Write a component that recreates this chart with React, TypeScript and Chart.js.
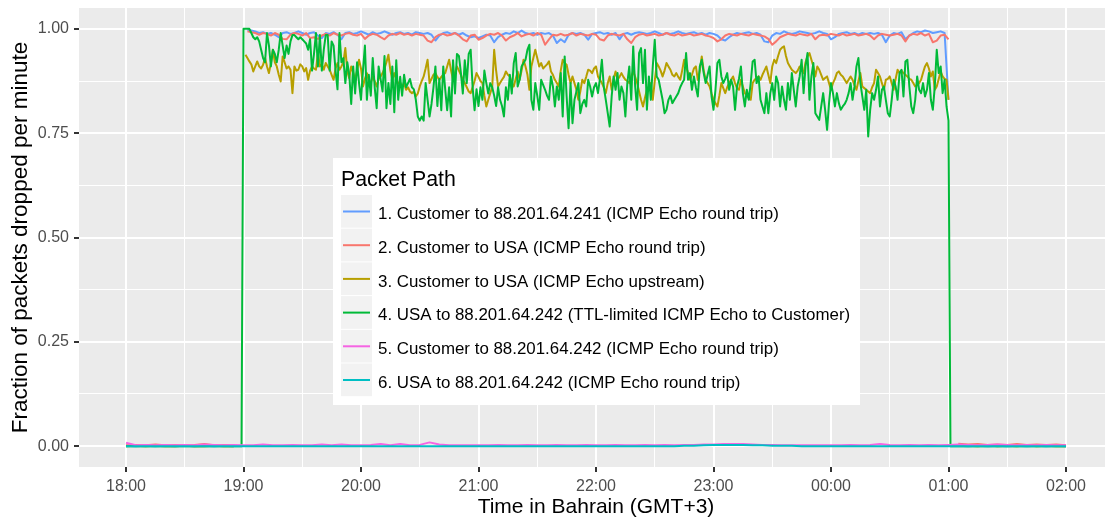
import React, { useEffect, useRef } from "react";
import { Chart, registerables } from "chart.js";

Chart.register(...registerables);

const FONT_FAMILY = '"Liberation Sans", Arial, Helvetica, sans-serif';

// ---------- axes (x = minutes after 18:00) ----------
const xBreakMinutes = [0, 30, 60, 90, 120, 150, 180, 210, 240, 270, 300, 330, 360, 390, 420, 450, 480];
const hourLabels = ["18:00", "19:00", "20:00", "21:00", "22:00", "23:00", "00:00", "01:00", "02:00"];
const yBreaks = [0, 0.125, 0.25, 0.375, 0.5, 0.625, 0.75, 0.875, 1];
const xLimits = [-24, 504];
const yLimits = [-0.05, 1.05];

const seriesLabels = [
  "1. Customer to 88.201.64.241 (ICMP Echo round trip)",
  "2. Customer to USA (ICMP Echo round trip)",
  "3. Customer to USA (ICMP Echo upstream)",
  "4. USA to 88.201.64.242 (TTL-limited ICMP Echo to Customer)",
  "5. Customer to 88.201.64.242 (ICMP Echo round trip)",
  "6. USA to 88.201.64.242 (ICMP Echo round trip)",
];
const seriesColors = ["#619CFF", "#F8766D", "#B79F00", "#00BA38", "#F564E3", "#00BFC4"];

// ---------- sampling of the value arrays ----------
const quietPreStart = 0;      // 18:00 .. 18:55, every 5 min
const quietPostStart = 425;   // 01:05 .. 02:00, every 5 min
const quietStep = 5;
const perMinuteStart = 59;    // 18:59 .. 01:01, every minute
const twoMinuteStart = 62;    // 19:02 .. 01:00, every 2 minutes
const fullStart = 0;          // 18:00 .. 02:00, every 5 min
const fullStep = 5;

// ---------- 1. Customer to 88.201.64.241 (blue) ----------
const blueQuietPre = [0.001, 0, 0.001, 0, 0.001, 0, 0.001, 0, 0.001, 0, 0.001, 0];
const blueActive = [
  0.998, 0.996, 0.994, 0.99, 0.992, 0.988, 0.99, 0.986, 0.98, 0.99,
  0.992, 0.988, 0.99, 0.994, 0.99, 0.986, 0.99, 0.992, 0.984, 0.978,
  0.99, 0.988, 0.992, 0.986, 0.975, 0.99, 0.992, 0.988, 0.99, 0.994,
  0.99, 0.986, 0.992, 0.988, 0.99, 0.994, 0.99, 0.986, 0.99, 0.992,
  0.988, 0.99, 0.986, 0.992, 0.99, 0.988, 0.99, 0.986, 0.972, 0.984,
  0.99, 0.992, 0.988, 0.99, 0.986, 0.99, 0.984, 0.98, 0.982, 0.978,
  0.982, 0.986, 0.984, 0.968, 0.98, 0.986, 0.99, 0.988, 0.994, 0.99,
  0.996, 0.99, 0.988, 0.99, 0.986, 0.99, 0.988, 0.99, 0.984, 0.966,
  0.975, 0.968, 0.986, 0.99, 0.988, 0.99, 0.986, 0.974, 0.988, 0.99,
  0.992, 0.988, 0.99, 0.986, 0.99, 0.975, 0.988, 0.99, 0.986, 0.99,
  0.992, 0.99, 0.988, 0.99, 0.994, 0.99, 0.986, 0.99, 0.988, 0.99,
  0.994, 0.99, 0.988, 0.99, 0.992, 0.988, 0.99, 0.986, 0.99, 0.988,
  0.984, 0.975, 0.972, 0.98, 0.986, 0.99, 0.988, 0.99, 0.992, 0.988,
  0.99, 0.986, 0.97, 0.968, 0.984, 0.99, 0.988, 0.994, 0.99, 0.988,
  0.99, 0.994, 0.992, 0.99, 0.988, 0.99, 0.994, 0.99, 0.988, 0.975,
  0.98, 0.988, 0.99, 0.992, 0.988, 0.99, 0.986, 0.99, 0.988, 0.99,
  0.988, 0.99, 0.986, 0.968, 0.984, 0.99, 0.988, 0.992, 0.975, 0.984,
  0.99, 0.994, 0.992, 0.996, 0.994, 0.99, 0.992, 0.994, 0.99, 0.83,
];
const blueQuietPost = [0.001, 0, 0.001, 0, 0.001, 0, 0.001, 0, 0.001, 0, 0.001, 0];

// ---------- 2. Customer to USA round trip (red) ----------
const redQuietPre = [0.002, 0.003, 0.002, 0.004, 0.002, 0.003, 0.002, 0.003, 0.005, 0.002, 0.003, 0.002];
const redActive = [
  0.994, 0.992, 0.99, 0.986, 0.99, 0.988, 0.984, 0.99, 0.986, 0.976,
  0.975, 0.986, 0.99, 0.988, 0.984, 0.99, 0.978, 0.98, 0.976, 0.984,
  0.988, 0.984, 0.99, 0.986, 0.984, 0.988, 0.99, 0.986, 0.984, 0.988,
  0.976, 0.984, 0.988, 0.986, 0.98, 0.975, 0.984, 0.988, 0.986, 0.99,
  0.986, 0.988, 0.984, 0.988, 0.986, 0.984, 0.972, 0.968, 0.98, 0.986,
  0.988, 0.984, 0.986, 0.99, 0.984, 0.975, 0.97, 0.984, 0.986, 0.974,
  0.978, 0.984, 0.988, 0.986, 0.99, 0.984, 0.972, 0.98, 0.984, 0.99,
  0.982, 0.986, 0.988, 0.984, 0.99, 0.986, 0.962, 0.975, 0.986, 0.984,
  0.988, 0.984, 0.986, 0.99, 0.984, 0.988, 0.986, 0.984, 0.988, 0.986,
  0.975, 0.972, 0.984, 0.988, 0.986, 0.984, 0.988, 0.975, 0.966, 0.98,
  0.986, 0.988, 0.984, 0.986, 0.988, 0.984, 0.986, 0.99, 0.986, 0.984,
  0.988, 0.984, 0.986, 0.988, 0.984, 0.986, 0.988, 0.984, 0.982, 0.978,
  0.97, 0.975, 0.984, 0.988, 0.986, 0.984, 0.988, 0.986, 0.984, 0.988,
  0.986, 0.984, 0.982, 0.976, 0.962, 0.97, 0.98, 0.984, 0.988, 0.986,
  0.984, 0.988, 0.986, 0.984, 0.988, 0.975, 0.984, 0.986, 0.984, 0.988,
  0.986, 0.984, 0.988, 0.984, 0.986, 0.988, 0.984, 0.986, 0.988, 0.984,
  0.975, 0.984, 0.988, 0.986, 0.984, 0.986, 0.988, 0.984, 0.97, 0.984,
  0.988, 0.986, 0.99, 0.984, 0.988, 0.968, 0.972, 0.984, 0.986, 0.975,
];
const redQuietPost = [0.006, 0.004, 0.005, 0.003, 0.004, 0.003, 0.005, 0.003, 0.004, 0.003, 0.004, 0.002];

// ---------- 3. Customer to USA upstream (olive) ----------
const oliveQuietPre = [0, 0.001, 0, 0.001, 0, 0, 0.001, 0, 0, 0.001, 0, 0];
const oliveActive = [
  null, null,
  0.938, 0.93, 0.922, 0.915, 0.898, 0.91, 0.922, 0.91, 0.905,
  0.914, 0.93, 0.91, 0.894, 0.918, 0.95, 0.92, 0.91, 0.89, 0.874,
  0.934, 0.92, 0.905, 0.91, 0.902, 0.846, 0.91, 0.9, 0.902, 0.915,
  0.91, 0.898, 0.906, 0.878, 0.9, 0.91, 0.905, 0.902, 0.942, 0.91,
  0.915, 0.902, 0.918, 0.91, 0.902, 0.89, 0.878, 0.905, 0.918, 0.902,
  0.91, 0.92, 0.954, 0.898, 0.882, 0.91, 0.895, 0.878, 0.9, 0.926,
  0.905, 0.862, 0.88, 0.894, 0.875, 0.87, 0.886, 0.875, 0.862, 0.88,
  0.886, 0.894, 0.905, 0.92, 0.938, 0.9, 0.878, 0.894, 0.88, 0.87,
  0.87, 0.862, 0.87, 0.854, 0.86, 0.85, 0.846, 0.85, 0.838, 0.845,
  0.862, 0.875, 0.886, 0.905, 0.926, 0.87, 0.88, 0.89, 0.894, 0.885,
  0.878, 0.885, 0.89, 0.894, 0.91, 0.926, 0.9, 0.878, 0.895, 0.91,
  0.9, 0.89, 0.878, 0.87, 0.86, 0.85, 0.846, 0.86, 0.875, 0.894,
  0.885, 0.875, 0.87, 0.84, 0.814, 0.83, 0.846, 0.86, 0.95, 0.9,
  0.862, 0.87, 0.878, 0.885, 0.898, 0.89, 0.886, 0.87, 0.862, 0.88,
  0.898, 0.878, 0.9, 0.926, 0.91, 0.89, 0.854, 0.91, 0.93, 0.95,
  0.93, 0.91, 0.918, 0.905, 0.91, 0.915, 0.922, 0.898, 0.89, 0.878,
  0.87, 0.862, 0.9, 0.926, 0.918, 0.914, 0.89, 0.87, 0.886, 0.87,
  0.854, 0.83, 0.85, 0.878, 0.87, 0.885, 0.902, 0.9, 0.894, 0.905,
  0.91, 0.886, 0.878, 0.87, 0.86, 0.846, 0.87, 0.886, 0.854, 0.88,
  0.898, 0.878, 0.885, 0.894, 0.885, 0.878, 0.875, 0.87, 0.885, 0.898,
  0.885, 0.87, 0.85, 0.83, 0.814, 0.835, 0.854, 0.862, 0.87, 0.83,
  0.875, 0.918, 0.91, 0.9, 0.886, 0.9, 0.918, 0.91, 0.902, 0.89,
  0.886, 0.894, 0.885, 0.878, 0.9, 0.926, 0.91, 0.895, 0.878, 0.89,
  0.905, 0.91, 0.878, 0.9, 0.934, 0.9, 0.878, 0.87, 0.862, 0.845,
  0.83, 0.822, 0.814, 0.84, 0.87, 0.858, 0.846, 0.86, 0.87, 0.878,
  0.886, 0.87, 0.858, 0.854, 0.878, 0.862, 0.846, 0.84, 0.834, 0.83,
  0.87, 0.878, 0.882, 0.886, 0.878, 0.89, 0.9, 0.91, 0.89, 0.87,
  0.91, 0.926, 0.918, 0.935, 0.95, 0.955, 0.958, 0.935, 0.918, 0.91,
  0.902, 0.898, 0.894, 0.9, 0.91, 0.902, 0.894, 0.92, 0.934, 0.942,
  0.926, 0.91, 0.886, 0.91, 0.902, 0.89, 0.878, 0.882, 0.886, 0.87,
  0.854, 0.87, 0.88, 0.894, 0.898, 0.89, 0.886, 0.878, 0.87, 0.878,
  0.886, 0.878, 0.865, 0.854, 0.875, 0.894, 0.862, 0.858, 0.854, 0.85,
  0.846, 0.86, 0.87, 0.902, 0.894, 0.886, 0.87, 0.854, 0.878, 0.88,
  0.886, 0.87, 0.854, 0.88, 0.902, 0.894, 0.9, 0.894, 0.89, 0.886,
  0.88, 0.878, 0.87, 0.862, 0.865, 0.87, 0.878, 0.895, 0.91, 0.918,
  0.905, 0.886, 0.898, 0.854, 0.862, 0.88, 0.898, 0.886, 0.88, 0.878,
  0.83, null,
];
const oliveQuietPost = [0.002, 0.001, 0, 0.002, 0, 0.001, 0, 0.002, 0, 0.001, 0, 0];

// ---------- 4. USA to 88.201.64.242 TTL-limited (green) ----------
const greenQuietPre = [0, 0, 0, 0, 0, 0, 0, 0, 0, 0, 0, 0];
const greenActive = [
  0,
  1.0, 1.0, 1.0, 1.0, 0.99, 0.98, 0.975, 0.98, 0.97, 0.95,
  0.93, 0.92, 0.99, 0.96, 0.91, 0.95, 0.94, 0.92, 0.95, 0.99,
  0.96, 0.93, 0.96, 0.94, 0.97, 0.985, 0.985, 0.98, 0.975, 0.98,
  0.975, 0.97, 0.965, 0.95, 0.975, 0.9, 0.94, 0.99, 0.91, 0.985,
  0.9, 0.95, 0.985, 0.985, 0.9, 0.97, 0.96, 0.9, 0.855, 0.99,
  0.92, 0.93, 0.87, 0.92, 0.89, 0.82, 0.91, 0.845, 0.92, 0.87,
  0.83, 0.9, 0.96, 0.83, 0.89, 0.84, 0.93, 0.86, 0.81, 0.91,
  0.88, 0.85, 0.935, 0.81, 0.87, 0.82, 0.91, 0.8, 0.925, 0.83,
  0.885, 0.84, 0.89, 0.86, 0.87, 0.88, 0.86, 0.855, 0.83, 0.79,
  0.78, 0.79, 0.78, 0.87, 0.83, 0.79, 0.82, 0.86, 0.91, 0.815,
  0.88, 0.805, 0.91, 0.855, 0.805, 0.86, 0.79, 0.925, 0.845, 0.94,
  0.935, 0.895, 0.845, 0.925, 0.87, 0.94, 0.95, 0.86, 0.805, 0.855,
  0.815, 0.86, 0.83, 0.9, 0.87, 0.845, 0.87, 0.86, 0.84, 0.815,
  0.86, 0.83, 0.815, 0.79, 0.86, 0.83, 0.89, 0.845, 0.918, 0.942,
  0.862, 0.878, 0.91, 0.918, 0.926, 0.95, 0.962, 0.83, 0.806, 0.87,
  0.84, 0.806, 0.878, 0.866, 0.854, 0.84, 0.83, 0.886, 0.862, 0.814,
  0.862, 0.83, 0.894, 0.79, 0.934, 0.838, 0.762, 0.87, 0.774, 0.83,
  0.85, 0.87, 0.798, 0.82, 0.83, 0.814, 0.878, 0.862, 0.838, 0.86,
  0.87, 0.846, 0.88, 0.926, 0.86, 0.83, 0.798, 0.766, 0.838, 0.886,
  0.854, 0.894, 0.83, 0.862, 0.846, 0.79, 0.87, 0.91, 0.83, 0.958,
  0.862, 0.806, 0.942, 0.954, 0.87, 0.95, 0.806, 0.886, 0.83, 0.91,
  0.974, 0.886, 0.878, 0.854, 0.83, 0.798, 0.806, 0.83, 0.84, 0.822,
  0.83, 0.838, 0.846, 0.86, 0.87, 0.878, 0.942, 0.878, 0.894, 0.854,
  0.886, 0.86, 0.838, 0.91, 0.926, 0.894, 0.87, 0.89, 0.91, 0.838,
  0.806, 0.854, 0.918, 0.926, 0.886, 0.87, 0.88, 0.894, 0.854, 0.878,
  0.862, 0.806, 0.862, 0.88, 0.91, 0.846, 0.814, 0.854, 0.83, 0.87,
  0.922, 0.926, 0.87, 0.886, 0.83, 0.814, 0.798, 0.846, 0.798, 0.846,
  0.87, 0.83, 0.886, 0.87, 0.814, 0.862, 0.83, 0.806, 0.87, 0.83,
  0.894, 0.854, 0.814, 0.862, 0.886, 0.926, 0.846, 0.91, 0.942, 0.83,
  0.886, 0.918, 0.798, 0.79, 0.782, 0.814, 0.846, 0.806, 0.758, 0.822,
  0.87, 0.846, 0.814, 0.846, 0.822, 0.806, 0.814, 0.82, 0.83, 0.846,
  0.87, 0.83, 0.862, 0.91, 0.93, 0.87, 0.838, 0.806, 0.854, 0.742,
  0.806, 0.846, 0.83, 0.854, 0.886, 0.814, 0.854, 0.862, 0.83, 0.798,
  0.79, 0.83, 0.878, 0.862, 0.83, 0.894, 0.902, 0.838, 0.922, 0.926,
  0.862, 0.814, 0.798, 0.83, 0.886, 0.854, 0.846, 0.87, 0.838, 0.854,
  0.894, 0.83, 0.806, 0.862, 0.95, 0.894, 0.91, 0.846, 0.878, 0.814,
  0.78, 0,
];
const greenQuietPost = [0, 0, 0, 0, 0, 0, 0, 0, 0, 0, 0, 0];

// ---------- 5. Customer to 88.201.64.242 (pink), 18:00..02:00 every 5 min ----------
const pinkAll = [
  0.008, 0.002, 0.003, 0.002, 0.003, 0.002, 0.003, 0.002, 0.004, 0.003, 0.002, 0.003,
  0.002, 0.002, 0.004, 0.002, 0.002, 0.003, 0.002, 0.002, 0.004, 0.002, 0.004, 0.002,
  0.002, 0.003, 0.005, 0.002, 0.005, 0.002, 0.003, 0.009, 0.004, 0.002, 0.002, 0.002,
  0.002, 0.002, 0.003, 0.002, 0.002, 0.003, 0.002, 0.002, 0.003, 0.002, 0.002, 0.003,
  0.002, 0.002, 0.003, 0.002, 0.002, 0.003, 0.002, 0.003, 0.002, 0.003, 0.003, 0.004,
  0.004, 0.005, 0.005, 0.005, 0.004, 0.003, 0.003, 0.002, 0.002, 0.002, 0.002, 0.002,
  0.002, 0.002, 0.003, 0.002, 0.003, 0.005, 0.003, 0.002, 0.003, 0.002, 0.003, 0.002,
  0.003, 0.004, 0.003, 0.002, 0.003, 0.004, 0.003, 0.002, 0.003, 0.002, 0.003, 0.002,
  0.002,
];

// ---------- 6. USA to 88.201.64.242 round trip (cyan), 18:00..02:00 every 5 min ----------
const cyanAll = [
  0, 0, 0, 0, 0, 0, 0, 0, 0, 0, 0, 0,
  0, 0, 0, 0, 0, 0, 0, 0, 0, 0, 0, 0,
  0, 0, 0, 0, 0, 0, 0, 0, 0, 0, 0, 0,
  0, 0, 0, 0, 0, 0, 0, 0, 0, 0, 0, 0,
  0, 0, 0, 0, 0, 0, 0, 0, 0, 0.001, 0.001, 0.002,
  0.003, 0.003, 0.003, 0.003, 0.002, 0.002, 0.001, 0.001, 0.001, 0, 0, 0,
  0, 0, 0, 0, 0, 0, 0, 0, 0, 0, 0, 0,
  0, 0, 0, 0, 0, 0, 0, 0, 0, 0, 0, 0,
  0,
];

// ---------- helpers ----------
type Pt = { x: number; y: number | null };
const pts = (start: number, step: number, vals: (number | null)[]): Pt[] =>
  vals.map((v, i) => ({ x: start + i * step, y: v }));
const gap = (x: number): Pt => ({ x, y: null });

const seriesPoints: Pt[][] = [
  [...pts(quietPreStart, quietStep, blueQuietPre), gap(58), ...pts(twoMinuteStart, 2, blueActive), gap(423), ...pts(quietPostStart, quietStep, blueQuietPost)],
  [...pts(quietPreStart, quietStep, redQuietPre), gap(58), ...pts(twoMinuteStart, 2, redActive), gap(423), ...pts(quietPostStart, quietStep, redQuietPost)],
  [...pts(quietPreStart, quietStep, oliveQuietPre), gap(57), ...pts(perMinuteStart, 1, oliveActive), gap(423), ...pts(quietPostStart, quietStep, oliveQuietPost)],
  [...pts(quietPreStart, quietStep, greenQuietPre), ...pts(perMinuteStart, 1, greenActive), ...pts(quietPostStart, quietStep, greenQuietPost)],
  pts(fullStart, fullStep, pinkAll),
  pts(fullStart, fullStep, cyanAll),
];

const isMajorX = (v: number) => v % 60 === 0;
const isMajorY = (v: number) => Math.abs(v * 4 - Math.round(v * 4)) < 1e-9;

const panelBackground = {
  id: "panelBackground",
  beforeDraw(chart: any) {
    const { ctx, chartArea } = chart;
    ctx.save();
    ctx.fillStyle = "#EBEBEB";
    ctx.fillRect(chartArea.left, chartArea.top, chartArea.right - chartArea.left, chartArea.bottom - chartArea.top);
    ctx.restore();
  },
};

const insideLegend = {
  id: "insideLegend",
  afterDraw(chart: any) {
    const ctx = chart.ctx;
    ctx.save();
    ctx.fillStyle = "#FFFFFF";
    ctx.fillRect(333, 158, 527, 247);
    ctx.fillStyle = "#000000";
    ctx.textAlign = "left";
    ctx.textBaseline = "alphabetic";
    ctx.font = `21.3px ${FONT_FAMILY}`;
    ctx.fillText("Packet Path", 341, 186);
    chart.data.datasets.forEach((ds: any, i: number) => {
      const top = 195 + i * 33.7;
      ctx.fillStyle = "#F2F2F2";
      ctx.fillRect(341, top, 31, 32.7);
      const cy = top + 16.5;
      ctx.strokeStyle = ds.borderColor;
      ctx.lineWidth = 2;
      ctx.lineCap = "butt";
      ctx.beginPath();
      ctx.moveTo(343, cy);
      ctx.lineTo(370, cy);
      ctx.stroke();
      ctx.fillStyle = "#000000";
      ctx.font = `16.9px ${FONT_FAMILY}`;
      ctx.textBaseline = "alphabetic";
      ctx.fillText(ds.label, 378, cy + 7.8);
    });
    ctx.restore();
  },
};

export default function App() {
  const canvasRef = useRef<HTMLCanvasElement | null>(null);

  useEffect(() => {
    if (!canvasRef.current) return;
    const chart = new Chart(canvasRef.current, {
      type: "line",
      data: {
        datasets: seriesPoints.map((data, i) => ({
          label: seriesLabels[i],
          data,
          borderColor: seriesColors[i],
          backgroundColor: seriesColors[i],
          borderWidth: 2,
          pointRadius: 0,
          pointHoverRadius: 0,
          fill: false,
          tension: 0,
          spanGaps: false,
          borderJoinStyle: "round",
          borderCapStyle: "butt",
          order: 6 - i,
        })),
      },
      options: {
        animation: false,
        responsive: false,
        devicePixelRatio: 1,
        events: [],
        layout: { padding: { top: 8, right: 8, left: 0, bottom: 0 } },
        plugins: {
          legend: { display: false },
          tooltip: { enabled: false },
          title: { display: false },
        },
        scales: {
          x: {
            type: "linear",
            min: xLimits[0],
            max: xLimits[1],
            afterBuildTicks: (scale: any) => {
              scale.ticks = xBreakMinutes.map((v) => ({ value: v }));
            },
            afterFit: (scale: any) => {
              scale.height = 51;
              scale.paddingLeft = 0;
              scale.paddingRight = 0;
            },
            border: { display: false },
            grid: {
              color: "#FFFFFF",
              lineWidth: (ctx: any) => (ctx.tick && isMajorX(ctx.tick.value) ? 2 : 1),
              drawTicks: true,
              tickLength: 5,
              tickWidth: 2,
              tickColor: (ctx: any) => (ctx.tick && isMajorX(ctx.tick.value) ? "#333333" : "rgba(0,0,0,0)"),
            },
            ticks: {
              autoSkip: false,
              maxRotation: 0,
              minRotation: 0,
              padding: 4.5,
              color: "#4D4D4D",
              font: { family: FONT_FAMILY, size: 16 },
              callback: (value: any) => (isMajorX(Number(value)) ? hourLabels[Number(value) / 60] : ""),
            },
            title: {
              display: true,
              text: "Time in Bahrain (GMT+3)",
              color: "#000000",
              font: { family: FONT_FAMILY, size: 21 },
              padding: { top: 0, bottom: -2 },
            },
          },
          y: {
            type: "linear",
            min: yLimits[0],
            max: yLimits[1],
            afterBuildTicks: (scale: any) => {
              scale.ticks = yBreaks.map((v) => ({ value: v }));
            },
            afterFit: (scale: any) => {
              scale.width = 79;
              scale.paddingTop = 0;
              scale.paddingBottom = 0;
            },
            border: { display: false },
            grid: {
              color: "#FFFFFF",
              lineWidth: (ctx: any) => (ctx.tick && isMajorY(ctx.tick.value) ? 2 : 1),
              drawTicks: true,
              tickLength: 5,
              tickWidth: 2,
              tickColor: (ctx: any) => (ctx.tick && isMajorY(ctx.tick.value) ? "#333333" : "rgba(0,0,0,0)"),
            },
            ticks: {
              autoSkip: false,
              padding: 5,
              color: "#4D4D4D",
              font: { family: FONT_FAMILY, size: 16 },
              callback: (value: any) => (isMajorY(Number(value)) ? Number(value).toFixed(2) : ""),
            },
            title: {
              display: true,
              text: "Fraction of packets dropped per minute",
              color: "#000000",
              font: { family: FONT_FAMILY, size: 22.5 },
              padding: { top: 7, bottom: 0 },
            },
          },
        },
      },
      plugins: [panelBackground, insideLegend],
    } as any);
    return () => chart.destroy();
  }, []);

  return (
    <div style={{ position: "fixed", left: 0, top: 0, width: 1105, height: 518, overflow: "hidden", background: "#FFFFFF" }}>
      <canvas ref={canvasRef} width={1121} height={518} style={{ display: "block", width: 1121, height: 518 }} />
    </div>
  );
}
